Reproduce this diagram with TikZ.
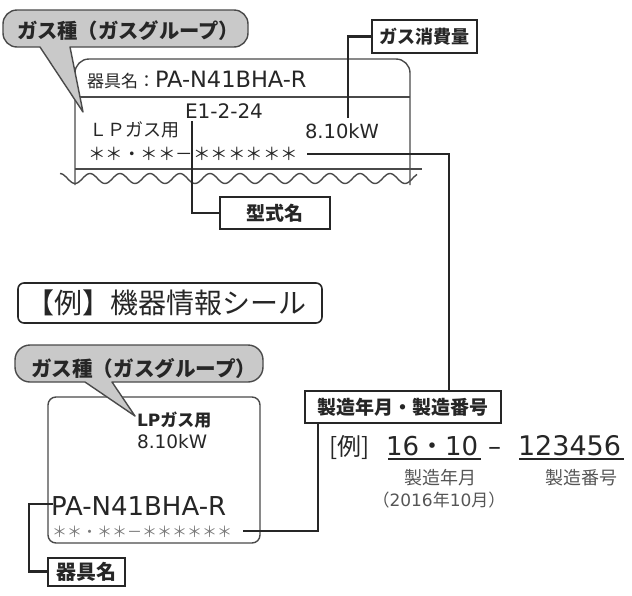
\documentclass[tikz,border=0pt]{standalone}
\usepackage{fontspec}
\setmainfont{Noto Sans CJK JP}
\newfontfamily\jpf{Noto Sans CJK JP}
\newfontfamily\lat{DejaVu Sans}
\newcommand\fsz[1]{\fontsize{#1}{#1}\selectfont}
\definecolor{ink}{HTML}{262626}
\definecolor{lblline}{HTML}{4A4A4A}
\definecolor{bub}{HTML}{C9C9C9}
\definecolor{soft}{HTML}{555555}
\definecolor{faint}{HTML}{7A7A7A}
\begin{document}
\begin{tikzpicture}[x=1pt,y=-1pt,
 txt/.style={inner sep=0pt, outer sep=0pt, text=ink},
 conn/.style={draw=ink, line width=2.2pt},
 tag/.style={draw=ink, line width=2pt, fill=white, inner sep=0pt, text=ink, font=\bfseries},
 lbl/.style={draw=lblline, line width=1.4pt},
 bubble/.style={draw=lblline, line width=1.4pt, fill=bub, line join=round}]
\useasboundingbox (0,0) rectangle (632,595);

% ---------- top label (cut-away) ----------
\draw[lbl, rounded corners=14] (75,185) -- (75,59) -- (410,59) -- (410,185);
\draw[lbl] (75,97) -- (410,97);
\draw[lbl] (75,169) -- (422,169);
\draw[lbl] plot[domain=60:417, samples=240, smooth] (\x, {178.5-5*cos(12*(\x-60))});

\node[txt, anchor=west] (t1name) at (87,80) {\fsz{17}器具名：\lat\fsz{22.5}PA-N41BHA-R};
\node[txt, anchor=west] (t1e) at (185,111) {\lat\fsz{20}E1-2-24};
\node[txt, anchor=west] (t1lp) at (89,130) {\fsz{18}ＬＰガス用};
\node[txt, anchor=west] (t1kw) at (305,131) {\lat\fsz{19.5}8.10kW};
\node[txt, anchor=west] (t1ser) at (88,154) {\fsz{17.5}＊＊・＊＊－＊＊＊＊＊＊};

% top bubble
\draw[bubble] (40,47) [rounded corners=14] -- (3,47) -- (3,10) -- (248,10) -- (248,47) [sharp corners] -- (70,47) -- (83,112) -- cycle;
\node[txt, anchor=west, font=\bfseries] (b1title) at (17,31) {\fsz{20.3}ガス種（ガスグループ）};

% ---------- middle title ----------
\node[draw=ink, line width=1.6pt, rounded corners=6pt, minimum width=304pt, minimum height=40pt, inner sep=0pt] (title) at (170,303) {};
\node[txt, anchor=west, text=ink] (titletext) at (27,303) {\fsz{28}【例】機器情報シール};

% ---------- bottom label ----------
\node[draw=lblline, line width=1.4pt, rounded corners=8pt, minimum width=212pt, minimum height=146pt, inner sep=0pt] (label2) at (154,470) {};
\draw[bubble] (85,382) [rounded corners=15] -- (15,382) -- (15,345) -- (263,345) -- (263,382) [sharp corners] -- (112,382) -- (135,416) -- cycle;
\node[txt, anchor=west, font=\bfseries] (b2title) at (31,369) {\fsz{20.6}ガス種（ガスグループ）};

\node[txt, anchor=west, font=\bfseries] (b2lp) at (137,420) {\lat\fsz{17}LP\jpf ガス用};
\node[txt, anchor=west] (b2kw) at (137,442) {\lat\fsz{18.5}8.10kW};
\node[txt, anchor=west] (b2pa) at (51,506) {\lat\fsz{26}PA-N41BHA-R};
\node[txt, anchor=west, text=faint] (b2ser) at (52,532) {\fsz{15}＊＊・＊＊－＊＊＊＊＊＊};

% ---------- example ----------
\node[txt, anchor=base west] (ex) at (329,455) {\fsz{24}[例]};
\node[txt, anchor=base west] (ym) at (386,455) {\lat\fsz{26}16\jpf ・\lat 10};
\node[txt, anchor=base west] (dash) at (488,455) {\lat\fsz{26}–};
\node[txt, anchor=base west] (num) at (518,455) {\lat\fsz{27}123456};
\draw[draw=ink, line width=2pt] (388,458.5) -- (481,458.5);
\draw[draw=ink, line width=2pt] (519,458.5) -- (624,458.5);
\node[txt, text=soft] (lab1) at (440,478) {\fsz{18}製造年月};
\node[txt, text=soft] (lab2) at (581,478) {\fsz{18}製造番号};
\node[txt, text=soft] (lab3) at (439,500) {\fsz{17}（\lat 2016\jpf 年\lat 10\jpf 月）};

% ---------- connectors ----------
\coordinate (kwpt) at (348,118);
\coordinate (e1pt) at (192,121);
\coordinate (ser1) at (307,154);
\coordinate (ser1turn) at (449,154);
\coordinate (ser2) at (243,531);
\coordinate (ser2turn) at (318,531);
\coordinate (papt) at (53,504);
\coordinate (paturn) at (29,504);

\node[tag, minimum width=105pt, minimum height=33pt] (gasbox) at (424.5,36.5) {\fsz{18}ガス消費量};
\node[tag, minimum width=110pt, minimum height=32pt] (katabox) at (275,213) {\fsz{19}型式名};
\node[tag, minimum width=196pt, minimum height=32pt] (seibox) at (403,407) {\fsz{19}製造年月・製造番号};
\node[tag, minimum width=77pt, minimum height=28pt] (kigubox) at (86.5,571.5) {\fsz{20}器具名};

\draw[conn] (kwpt) |- (gasbox.west);
\draw[conn] (e1pt) |- (katabox.west);
\draw[conn] (ser1) -- (ser1turn) -- (ser1turn |- seibox.north);
\draw[conn] (ser2) -- (ser2turn) -- (ser2turn |- seibox.south);
\draw[conn] (papt) -- (paturn) |- (kigubox.west);
\end{tikzpicture}
\end{document}
